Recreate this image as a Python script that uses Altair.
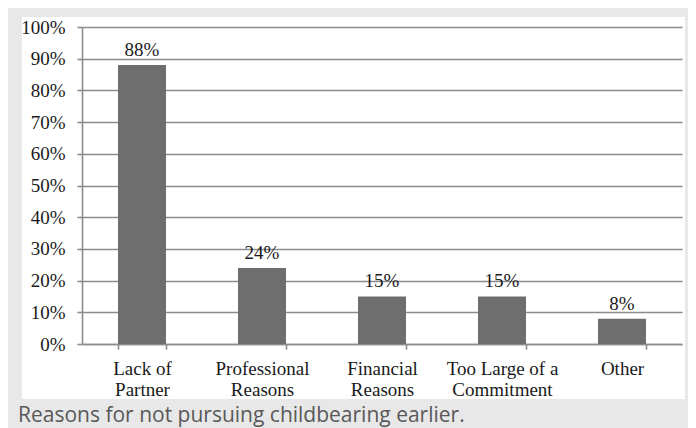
import altair as alt
import pandas as pd

# ---- data ----
categories = ["Lack of|Partner", "Professional|Reasons", "Financial|Reasons",
              "Too Large of a|Commitment", "Other"]
values = [0.88, 0.24, 0.15, 0.15, 0.08]
axis_ticks = [0.0, 0.1, 0.2, 0.3, 0.4, 0.5, 0.6, 0.7, 0.8, 0.9, 1.0]
caption = "Reasons for not pursuing childbearing earlier."

SERIF = "Liberation Serif"
TXT = "#1a1a1a"
GRID = "#8c8c8c"
FRAME = "#e8e8e8"

df = pd.DataFrame({"category": categories, "value": values})

yscale = alt.Scale(domain=[0, 1])
xscale = alt.Scale(paddingInner=0.6, paddingOuter=0.3)

one = alt.Data(values=[{"k": 1}])


def frame_strip(x0, x1, y0, y1):
    # grey page frame around the white chart panel (pure decoration)
    return alt.Chart(one).mark_rect(color=FRAME).encode(
        x=alt.value(x0), x2=alt.value(x1), y=alt.value(y0), y2=alt.value(y1)
    )


frame = [
    frame_strip(-74, 606, -19, -10),
    frame_strip(-74, -60, -10, 372),
    frame_strip(603, 606, -10, 372),
    frame_strip(-74, 606, 372, 401),
]

x_axis = alt.Axis(labelExpr="split(datum.label, '|')", labelAngle=0,
                  tickBand="extent", labelLineHeight=21,
                  domainColor=GRID, domainWidth=1.6, tickColor=GRID,
                  tickWidth=1.6, tickSize=5, labelPadding=10,
                  labelFont=SERIF, labelFontSize=19, labelColor=TXT)
y_axis = alt.Axis(values=axis_ticks, format=".0%", grid=True,
                  labelOverlap=False,
                  gridColor=GRID, gridWidth=1.6,
                  domainColor=GRID, domainWidth=1.6, tickColor=GRID,
                  tickWidth=1.6, tickSize=5, labelPadding=12,
                  labelFont=SERIF, labelFontSize=19, labelColor=TXT)

x_enc = alt.X("category:N", sort=categories, scale=xscale, title=None, axis=x_axis)
y_enc = alt.Y("value:Q", scale=yscale, title=None, axis=y_axis)

bars = alt.Chart(df).mark_bar(color="#6e6e6e").encode(x=x_enc, y=y_enc)

labels = alt.Chart(df).mark_text(dy=-5, baseline="bottom", font=SERIF,
                                 fontSize=19, color=TXT).encode(
    x=x_enc,
    y=y_enc,
    text=alt.Text("value:Q", format=".0%"),
)

cap = alt.Chart(one).mark_text(align="left", baseline="alphabetic", font="Open Sans",
                               fontSize=21, color="#595959").encode(
    x=alt.value(-64), y=alt.value(395), text=alt.value(caption)
)

chart = alt.layer(*frame, bars, labels, cap).properties(
    width=600,
    height=317,
    background="white",
    padding={"left": 74, "top": 19, "right": 6, "bottom": 84},
    autosize=alt.AutoSizeParams(type="none"),
).configure_view(stroke=None)

chart.save("out.html", embed_options={"renderer": "svg", "actions": False})
